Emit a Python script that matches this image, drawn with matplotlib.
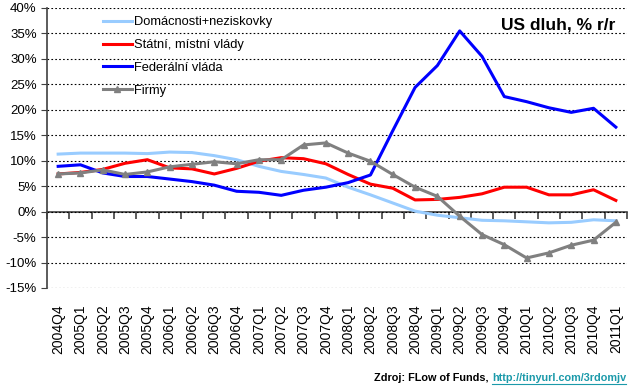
import matplotlib
matplotlib.use('Agg')
import matplotlib.pyplot as plt
from matplotlib.lines import Line2D
from matplotlib.ticker import FixedLocator, FuncFormatter

plt.rcParams['font.family'] = ['Liberation Sans', 'DejaVu Sans']

# čtvrtletí
quarters = ['2004Q4',
            '2005Q1', '2005Q2', '2005Q3', '2005Q4',
            '2006Q1', '2006Q2', '2006Q3', '2006Q4',
            '2007Q1', '2007Q2', '2007Q3', '2007Q4',
            '2008Q1', '2008Q2', '2008Q3', '2008Q4',
            '2009Q1', '2009Q2', '2009Q3', '2009Q4',
            '2010Q1', '2010Q2', '2010Q3', '2010Q4',
            '2011Q1']

# meziroční růst dluhu v %
domacnosti = [11.3, 11.5, 11.5, 11.5, 11.4, 11.7, 11.6, 11.0, 10.2,
              8.9, 7.9, 7.3, 6.6, 4.8, 3.3, 1.7, 0.1,
              -0.7, -1.2, -1.7, -1.8, -2.0, -2.2, -2.1, -1.6, -1.8]
statni = [7.4, 7.7, 8.3, 9.5, 10.2, 8.6, 8.4, 7.4, 8.5,
          9.9, 10.6, 10.4, 9.4, 7.3, 5.4, 4.6, 2.3,
          2.4, 2.8, 3.5, 4.8, 4.8, 3.3, 3.3, 4.3, 2.2]
federalni = [8.9, 9.2, 7.6, 6.9, 6.9, 6.4, 5.9, 5.2, 4.0,
             3.8, 3.2, 4.2, 4.8, 5.7, 7.2, 15.9, 24.4,
             28.7, 35.5, 30.5, 22.6, 21.6, 20.4, 19.5, 20.3, 16.6]
firmy = [7.4, 7.6, 8.2, 7.3, 7.8, 8.8, 9.3, 9.8, 9.4,
         10.2, 10.2, 13.1, 13.5, 11.5, 9.9, 7.3, 4.8,
         3.0, -0.9, -4.5, -6.5, -9.1, -8.1, -6.6, -5.6, -2.1]

x = list(range(len(quarters)))

fig = plt.figure(figsize=(6.4, 3.92), dpi=100)
ax = fig.add_axes([47 / 640, 1 - 288 / 392, 580 / 640, 280 / 392])

ax.plot(x, domacnosti, color='#99CCFF', lw=2.2, label='Domácnosti+neziskovky')
ax.plot(x, statni, color='#FF0000', lw=2.2, label='Státní, místní vlády')
ax.plot(x, federalni, color='#0000FF', lw=2.2, label='Federální vláda')
ax.plot(x, firmy, color='#808080', lw=2.2, marker='^', markersize=5,
        label='Firmy')

ax.set_xlim(-0.5, len(quarters) - 0.5)
ax.set_ylim(-15, 40)
ax.set_yticks(range(-15, 41, 5))
ax.yaxis.set_major_formatter(FuncFormatter(lambda v, p: f'{v:.0f}%'))
ax.grid(axis='y', color='black', linestyle=(0, (1.5, 2)), lw=0.8)
ax.set_axisbelow(True)

for s in ['top', 'right', 'bottom']:
    ax.spines[s].set_visible(False)
ax.spines['left'].set_color('#404040')
ax.spines['left'].set_linewidth(1.2)

ax.set_xticks(x)
ax.set_xticklabels(quarters, rotation=90, va='top', ha='center')
ax.tick_params(axis='x', length=0, pad=12, labelsize=10)
ax.tick_params(axis='y', length=4, direction='out', labelsize=9.5,
               color='#404040')

# osa x prochází nulou, značky mezi kategoriemi
zero_pos = (0 - (-15)) / (40 - (-15))
sec = ax.secondary_xaxis(zero_pos)
sec.xaxis.set_major_locator(FixedLocator([i - 0.5 for i in range(len(quarters) + 1)]))
sec.tick_params(axis='x', direction='out', length=5, labelbottom=False,
                labeltop=False, color='#404040', width=1.2)
sec.spines['bottom'].set_color('#404040')
sec.spines['bottom'].set_linewidth(1.2)
sec.spines['top'].set_visible(False)

leg = ax.legend(loc='upper left', bbox_to_anchor=(98 / 640, 1 - 11 / 392),
                bbox_transform=fig.transFigure, frameon=False, fontsize=9.3,
                handlelength=2.2, handletextpad=0.2, labelspacing=0.84,
                borderaxespad=0)

fig.text(615 / 640, 1 - 25 / 392, 'US dluh, % r/r', ha='right', va='center',
         fontsize=12.5, fontweight='bold')

url = fig.text(626 / 640, 1 - 381 / 392, 'http://tinyurl.com/3rdomjv',
               ha='right', va='baseline', fontsize=7.8, fontweight='bold',
               color='#1B9AAA')
fig.canvas.draw()
bb = url.get_window_extent().transformed(fig.transFigure.inverted())
fig.text(bb.x0, 1 - 381 / 392, 'Zdroj: FLow of Funds, ', ha='right',
         va='baseline', fontsize=7.8, fontweight='bold', color='black')
fig.add_artist(Line2D([bb.x0, bb.x1], [bb.y0 - 0.002, bb.y0 - 0.002],
                      transform=fig.transFigure, color='#1B9AAA', lw=0.8))

fig.savefig('out.png', dpi=100)
